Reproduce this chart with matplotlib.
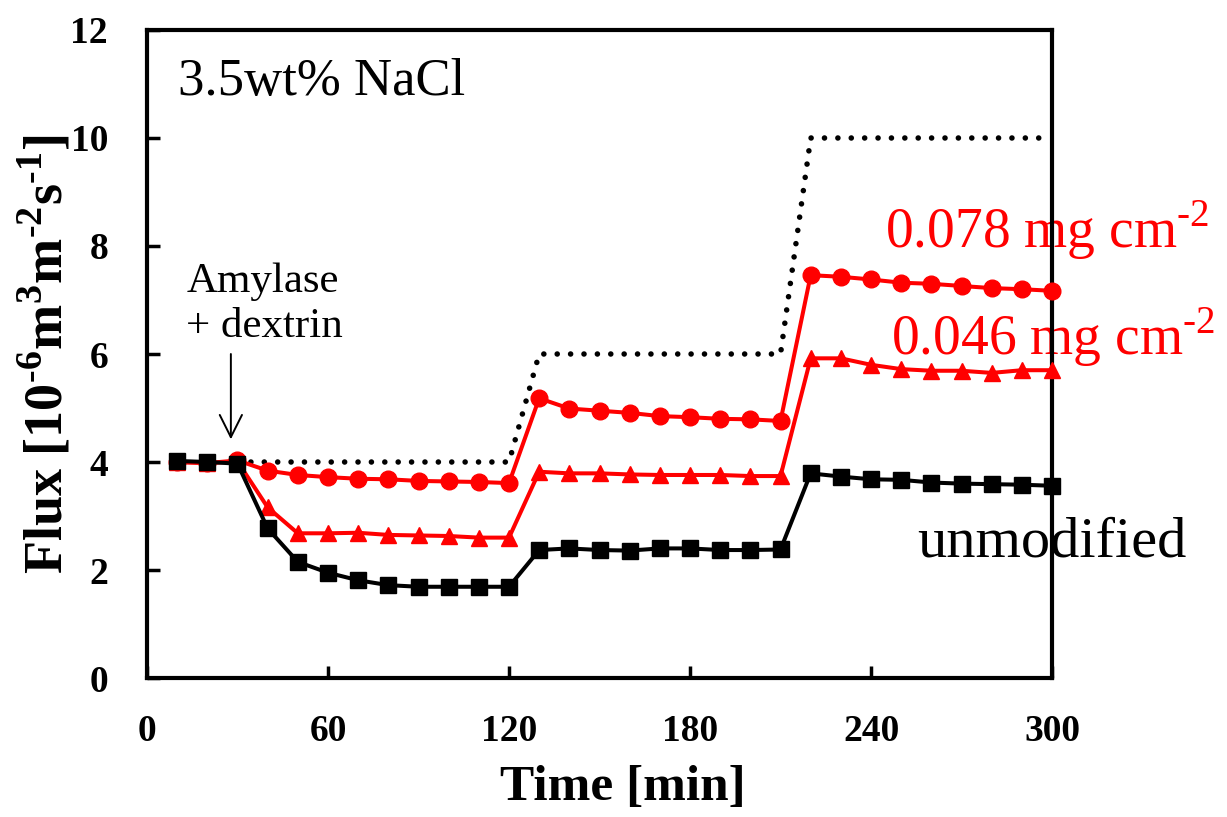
import numpy as np
import matplotlib
matplotlib.use('Agg')
from matplotlib import pyplot as plt

plt.rcParams['font.family'] = ['Liberation Serif', 'DejaVu Serif']
plt.rcParams['mathtext.fontset'] = 'custom'
plt.rcParams['mathtext.rm'] = 'Liberation Serif'
plt.rcParams['mathtext.bf'] = 'Liberation Serif:bold'

# time [min]
time = np.arange(10, 301, 10)

# unmodified membrane
flux_unmod = [4.02, 4.00, 3.97, 2.77, 2.15, 1.95, 1.81, 1.72, 1.69, 1.69,
              1.69, 1.69, 2.37, 2.40, 2.37, 2.36, 2.40, 2.40, 2.37, 2.37,
              2.38, 3.79, 3.73, 3.68, 3.67, 3.62, 3.60, 3.59, 3.58, 3.56]
# 0.046 mg cm-2
flux_046 = [4.00, 3.98, 4.01, 3.16, 2.68, 2.68, 2.69, 2.65, 2.64, 2.63,
            2.60, 2.60, 3.82, 3.79, 3.79, 3.77, 3.76, 3.76, 3.76, 3.74,
            3.74, 5.92, 5.92, 5.80, 5.72, 5.69, 5.69, 5.65, 5.70, 5.70]
# 0.078 mg cm-2
flux_078 = [4.00, 3.98, 4.03, 3.84, 3.76, 3.72, 3.69, 3.68, 3.65, 3.64,
            3.63, 3.61, 5.18, 4.99, 4.95, 4.91, 4.85, 4.83, 4.80, 4.79,
            4.76, 7.46, 7.43, 7.38, 7.32, 7.30, 7.26, 7.22, 7.20, 7.17]
# pure water flux (dotted)
time_ref = [30, 120, 130, 210, 220, 300]
flux_ref = [4, 4, 6, 6, 10, 10]

HY = '\u2010'  # hyphen used as minus sign in the original

fig = plt.figure(figsize=(12.27, 8.17), dpi=100)
ax = fig.add_axes([0.1198, 0.1701, 0.7376, 0.7932])

ax.plot(time_ref, flux_ref, color='black', lw=4, linestyle=(0, (0.01, 2.4)),
        dash_capstyle='round', zorder=3)
ax.plot(time, flux_078, color='red', lw=2.9, marker='o', ms=12, zorder=4, clip_on=False)
ax.plot(time, flux_046, color='red', lw=2.9, marker='^', ms=12, zorder=4, clip_on=False)
ax.plot(time, flux_unmod, color='black', lw=2.9, marker='s', ms=11, zorder=5, clip_on=False)

ax.set_xlim(0, 300)
ax.set_ylim(0, 12)
ax.set_xticks(np.arange(0, 301, 60))
ax.set_yticks(np.arange(0, 13, 2))
ax.tick_params(direction='in', length=9, width=2.5, labelsize=27)
ax.tick_params(axis='x', pad=26)
ax.tick_params(axis='y', pad=28)
for lab in ax.get_xticklabels() + ax.get_yticklabels():
    lab.set_fontweight('bold')
for s in ax.spines.values():
    s.set_linewidth(3)

ax.set_xlabel('Time [min]', fontsize=37, fontweight='bold')
ax.xaxis.set_label_coords(0.526, -0.134)
ax.set_ylabel(r'Flux [10$^{\mathbf{' + HY + r'6}}$m$^{\mathbf{3}}$m$^{\mathbf{' + HY
              + r'2}}$s$^{\mathbf{' + HY + r'1}}$]',
              fontsize=39, fontweight='bold')
ax.yaxis.set_label_coords(-0.0796, 0.5)

ax.text(10.3, 10.8, '3.5wt% NaCl', fontsize=38, va='baseline', ha='left', zorder=2)
ax.text(13, 6.32, 'Amylase\n+ dextrin', fontsize=31, va='baseline', ha='left',
        linespacing=1.2, zorder=2)
ax.annotate('', xy=(27.8, 4.42), xytext=(27.8, 6.0),
            arrowprops=dict(arrowstyle='->', color='black', lw=1.4,
                            mutation_scale=40, shrinkA=0, shrinkB=0))
ax.text(244.5, 7.96, '0.078 mg cm$^{' + HY + '2}$', fontsize=40, color='red',
        va='baseline', ha='left', clip_on=False, zorder=2)
ax.text(246.5, 5.98, '0.046 mg cm$^{' + HY + '2}$', fontsize=40, color='red',
        va='baseline', ha='left', clip_on=False, zorder=2)
ax.text(255.2, 2.25, 'unmodified', fontsize=42, color='black',
        va='baseline', ha='left', clip_on=False, zorder=2)

plt.savefig('out.png', dpi=100)
